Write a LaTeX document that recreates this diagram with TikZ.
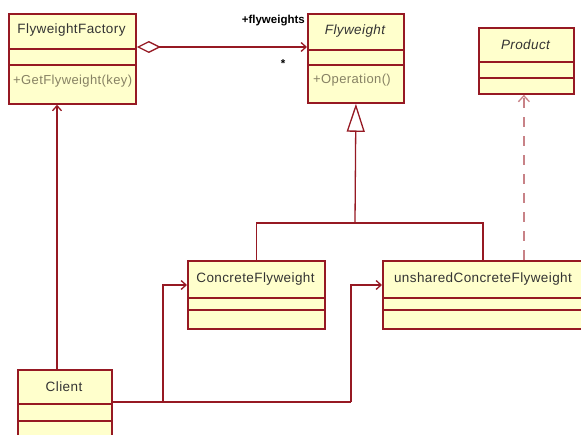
\documentclass[tikz,border=0pt]{standalone}
\usepackage{fontspec}
\setmainfont{Liberation Sans}
\usetikzlibrary{arrows.meta,calc}
\definecolor{umlred}{RGB}{150,25,35}
\definecolor{umlfill}{RGB}{255,255,204}
\definecolor{umlop}{RGB}{135,130,100}
\definecolor{umldep}{RGB}{200,130,135}
\newfontfamily\titlefont[LetterSpace=3]{Liberation Sans}
\tikzset{
  clsbox/.style={draw=umlred, fill=umlfill, line width=1.8pt, rectangle, inner sep=0pt, anchor=north west},
  sepline/.style={draw=umlred, line width=1.8pt},
  clstitle/.style={font=\titlefont\fontsize{13.5}{15}\selectfont, text=black!80, inner sep=0pt},
  clstitleit/.style={font=\titlefont\fontsize{13.5}{15}\selectfont\itshape, text=black!80, inner sep=0pt},
  clsop/.style={font=\titlefont\fontsize{13}{15}\selectfont, text=umlop, inner sep=0pt, anchor=west},
  assoc/.style={draw=umlred, line width=1.3pt, -{Straight Barb[length=5pt,width=9pt,line width=1.3pt]}},
  plainln/.style={draw=umlred, line width=1.3pt},
  inh/.style={draw=umlred, line width=1.3pt, -{Triangle[open, length=28pt, width=18pt, fill=white, line width=1.3pt]}},
  dep/.style={draw=umldep, line width=1.3pt, dash pattern=on 10pt off 9pt, -{Straight Barb[length=6pt,width=11pt,line width=1.3pt]}},
  agg/.style={draw=umlred, line width=1.3pt, {Diamond[open, length=24pt, width=12pt, fill=white, line width=1.3pt]}-{Straight Barb[length=5pt,width=9pt,line width=1.3pt]}},
  lbl/.style={font=\fontsize{11.5}{13}\selectfont\bfseries, text=black, inner sep=0pt}
}
% name, x, y, width, title height, attr height, total height
\newcommand\umlcls[7]{%
  \node[clsbox, minimum width=#4, minimum height=#7] (#1) at (#2,#3) {};
  \draw[sepline] ([yshift=-#5]#1.north west) -- ([yshift=-#5]#1.north east);
  \draw[sepline] ([yshift=-#5-#6]#1.north west) -- ([yshift=-#5-#6]#1.north east);
}
\begin{document}
\begin{tikzpicture}[x=1pt,y=-1pt]
\clip (0,0) rectangle (581,435);
\fill[white] (0,0) rectangle (581,435);

% classes
\umlcls{ff}{8}{13}{127}{36}{16}{90}
\node[clstitle] (fft) at (71.5,30) {FlyweightFactory};
\node[clsop] (ffo) at (13,81) {+GetFlyweight(key)};

\umlcls{fw}{307}{13}{96}{37}{15}{89}
\node[clstitleit] (fwt) at (355,31) {Flyweight};
\node[clsop] (fwo) at (313,80) {+Operation()};

\umlcls{pr}{478}{27}{95}{35}{16}{66}
\node[clstitleit] (prt) at (525.5,45) {Product};

\umlcls{cf}{187}{260}{137}{38}{12}{68}
\node[clstitle] (cft) at (255.5,279) {ConcreteFlyweight};

\umlcls{un}{382}{260}{200}{38}{12}{68}
\node[clstitle] (unt) at (483,279) {unsharedConcreteFlyweight};

\umlcls{cl}{17}{369}{94}{35}{17}{80}
\node[clstitle] (clt) at (64,387) {Client};

% association FlyweightFactory -> Flyweight
\draw[agg] ([yshift=-34]ff.north east) -- ([yshift=-34]fw.north west);
\node[lbl, anchor=east] (role) at (305,21) {+flyweights};
\node[lbl] (mult) at (283,64) {*};

% inheritance
\coordinate (tj) at (355,223);
\draw[plainln] (cf.north) |- (tj) -| (un.north);
\draw[inh] (tj) -- (fw.south);

% dependency to Product
\draw[dep] ([xshift=41]un.north) -- ([xshift=41]un.north |- pr.south);

% client associations
\draw[assoc] ([xshift=40]cl.north west) -- ([xshift=49]ff.south west);
\coordinate (j1) at (163,402);
\coordinate (j2) at (351,402);
\draw[plainln] ([yshift=-33]cl.north east) -- (j2);
\draw[assoc] (j1) |- ([yshift=-25]cf.north west);
\draw[assoc] (j2) |- ([yshift=-25]un.north west);
\end{tikzpicture}
\end{document}
